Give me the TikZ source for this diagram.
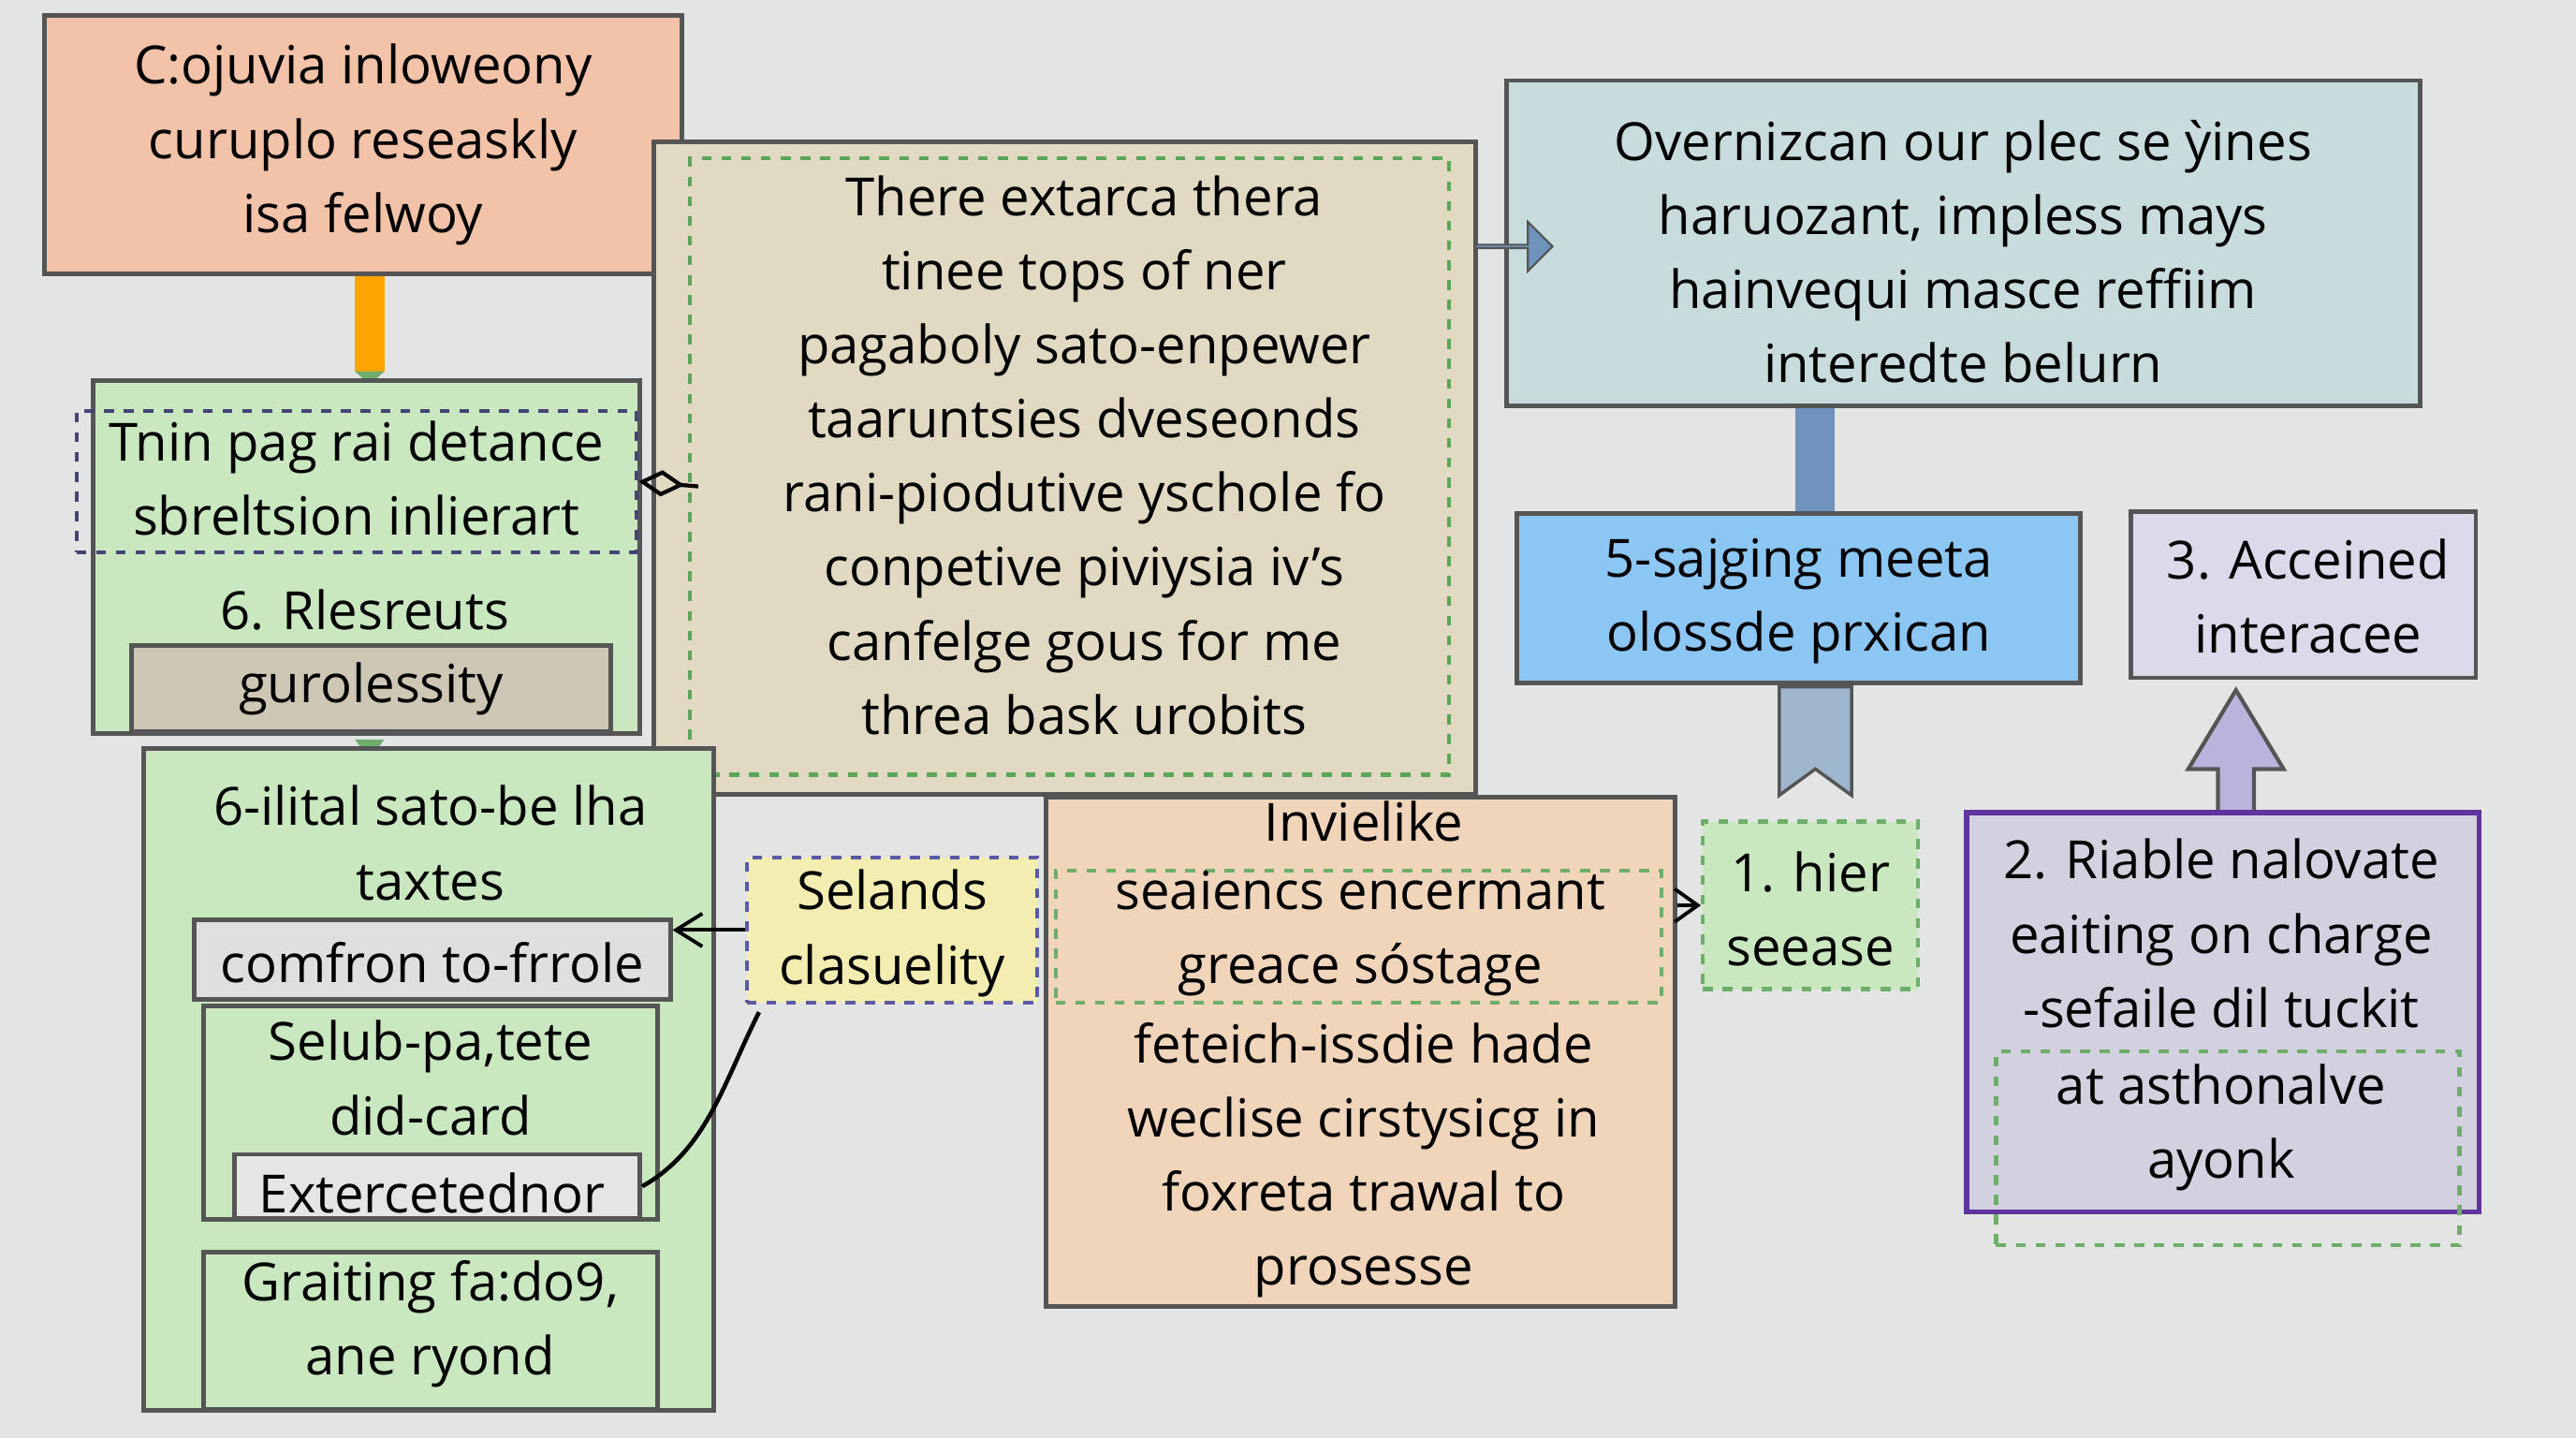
\documentclass[tikz,border=0pt]{standalone}
\usepackage{fontspec}
\setmainfont{Open Sans}
\usetikzlibrary{arrows.meta,shapes.arrows}
\definecolor{bg}{HTML}{E3E5E4}
\definecolor{salmon}{HTML}{F2C3A8}
\definecolor{lgreen}{HTML}{C9E8C0}
\definecolor{tan}{HTML}{E2D9C2}
\definecolor{bgray}{HTML}{C9DCDD}
\definecolor{lblue}{HTML}{8CC6F2}
\definecolor{lav}{HTML}{DCDAEA}
\definecolor{peach}{HTML}{F1D5BA}
\definecolor{yel}{HTML}{F4EDB2}
\definecolor{edge}{HTML}{555555}
\definecolor{dgreen}{HTML}{6FAE6A}
\definecolor{steel}{HTML}{6F93BC}
\definecolor{steel2}{HTML}{9FB6CF}
\definecolor{lavarr}{HTML}{B8B4DC}
\begin{document}
\begin{tikzpicture}[x=0.01755cm,y=-0.01755cm,
 box/.style={draw=edge,line width=1.4pt},
 dbox/.style={draw=dgreen,dashed,line width=1.2pt},
 t/.style={align=center,font=\fontsize{16}{22.5}\selectfont,inner sep=0pt}]
\fill[bg] (0,0) rectangle (1568,875);
\useasboundingbox (0,0) rectangle (1568,875);
% connectors behind
\fill[orange!70!yellow] (216,167) rectangle (234,226);
\fill[dgreen] (216,226) -- (234,226) -- (225,234) -- cycle;
\fill[dgreen] (216,450) -- (234,450) -- (225,462) -- cycle;
\fill[steel] (1093,247) rectangle (1117,312);
% salmon
\node[box,fill=salmon,minimum width=388*0.01755cm,minimum height=157*0.01755cm] (s) at (221,88) {};
\node[t] (st) at (221,88) {C:ojuvia inloweony\\curuplo reseaskly\\isa felwoy};
% left green upper
\node[box,fill=lgreen,minimum width=333*0.01755cm,minimum height=215*0.01755cm] (g1) at (223,339) {};
\node[draw=edge!80!blue,dashed,line width=1.2pt,minimum width=341*0.01755cm,minimum height=86*0.01755cm] (g1d) at (217,293) {};
\node[t] at (217,291) {Tnin pag rai detance\\sbreltsion inlierart};
\node[t] at (222,371) {6. Rlesreuts};
\node[box,fill=tan!80!gray,minimum width=292*0.01755cm,minimum height=52*0.01755cm] (g1b) at (226,419) {};
\node[t] at (226,419) {gurolessity};
% big tan
\node[box,fill=tan,minimum width=500*0.01755cm,minimum height=397*0.01755cm] (big) at (648,285) {};
\node[dbox,draw=gray!70!green,minimum width=462*0.01755cm,minimum height=375*0.01755cm] at (651,284) {};
\node[t] at (660,277) {There extarca thera\\tinee tops of ner\\pagaboly sato-enpewer\\taaruntsies dveseonds\\rani-piodutive yschole fo\\conpetive piviysia iv's\\canfelge gous for me\\threa bask urobits};
\draw[black,line width=1.2pt,{Diamond[open,length=14pt,width=8pt]}-] (g1d.east) -- (425,296);
% top right
\node[box,fill=bgray,minimum width=556*0.01755cm,minimum height=198*0.01755cm] (tr) at (1195,148) {};
\node[t] at (1195,153) {Overnizcan our plec se ỳines\\haruozant, impless mays\\hainvequi masce reffiim\\interedte belurn};
\node[single arrow,fill=steel,draw=edge,line width=0.6pt,minimum height=47*0.01755cm,minimum width=30*0.01755cm,single arrow head extend=4pt,inner sep=0pt] at (921,150) {};
% blue
\node[box,fill=lblue,minimum width=343*0.01755cm,minimum height=103*0.01755cm] (bl) at (1095,364) {};
\node[t] at (1095,366) {5-sajging meeta\\olossde prxican};
\fill[steel2,draw=edge,line width=1pt] (1083,418) -- (1127,418) -- (1127,484) -- (1105,468) -- (1083,484) -- cycle;
% 1 hier
\node[dbox,fill=lgreen,minimum width=131*0.01755cm,minimum height=102*0.01755cm] (h) at (1102,551) {};
\node[t] at (1102,553) {1. hier\\seease};
% lavender
\node[box,fill=lav,minimum width=210*0.01755cm,minimum height=101*0.01755cm] (lv) at (1402,362) {};
\node[t] at (1405,363) {3. Acceined\\interacee};
\fill[lavarr,draw=edge,line width=1.2pt] (1350,495) -- (1350,468) -- (1332,468) -- (1361,420) -- (1390,468) -- (1372,468) -- (1372,495) -- cycle;
% purple
\node[draw=purple!40!blue!60!gray,line width=1.6pt,fill=lav!90!gray,minimum width=312*0.01755cm,minimum height=243*0.01755cm] (pp) at (1353,616) {};
\node[t] at (1352,568) {2. Riable nalovate\\eaiting on charge\\-sefaile dil tuckit};
\node[dbox,minimum width=282*0.01755cm,minimum height=118*0.01755cm] at (1356,699) {};
\node[t] at (1352,686) {at asthonalve\\ayonk};
% lower left green
\node[box,fill=lgreen,minimum width=347*0.01755cm,minimum height=403*0.01755cm] (g2) at (261,657) {};
\node[t] at (262,513) {6-ilital sato-be lha\\taxtes};
\node[box,fill=gray!25,minimum width=290*0.01755cm,minimum height=48*0.01755cm] (cf) at (263,584) {};
\node[t] at (263,586) {comfron to-frrole};
\node[box,fill=lgreen,minimum width=276*0.01755cm,minimum height=130*0.01755cm] (sp) at (262,677) {};
\node[t] at (262,656) {Selub-pa,tete\\did-card};
\node[box,fill=gray!20,minimum width=247*0.01755cm,minimum height=39*0.01755cm] (ex) at (266,722) {};
\node[t] at (263,726) {Extercetednor};
\node[box,fill=lgreen,minimum width=276*0.01755cm,minimum height=96*0.01755cm] (gr) at (262,810) {};
\node[t] at (262,806) {Graiting fa:do9,\\ane ryond};
% yellow
\node[dbox,draw=gray!70!blue,fill=yel,minimum width=177*0.01755cm,minimum height=88*0.01755cm] (y) at (543,566) {};
\node[t] at (543,568) {Selands\\clasuelity};
\draw[black,line width=1.1pt,-{Straight Barb[length=8pt,width=10pt]}] (y.west) -- (cf.east|-y.west);
\draw[black,line width=1.3pt] (462,616) .. controls (440,660) and (430,700) .. (ex.east);
% orange lower
\node[box,fill=peach,minimum width=383*0.01755cm,minimum height=310*0.01755cm] (or) at (828,640) {};
\node[t] at (830,500) {Invielike};
\node[dbox,minimum width=369*0.01755cm,minimum height=80*0.01755cm] at (827,570) {};
\node[t] at (828,568) {seaiencs encermant\\greace sóstage};
\node[t] at (830,706) {feteich-issdie hade\\weclise cirstysicg in\\foxreta trawal to\\prosesse};
\draw[black,line width=1.1pt,-{Straight Barb[length=7pt,width=10pt]}] (or.east|-h.west) -- (h.west);
\end{tikzpicture}
\end{document}
